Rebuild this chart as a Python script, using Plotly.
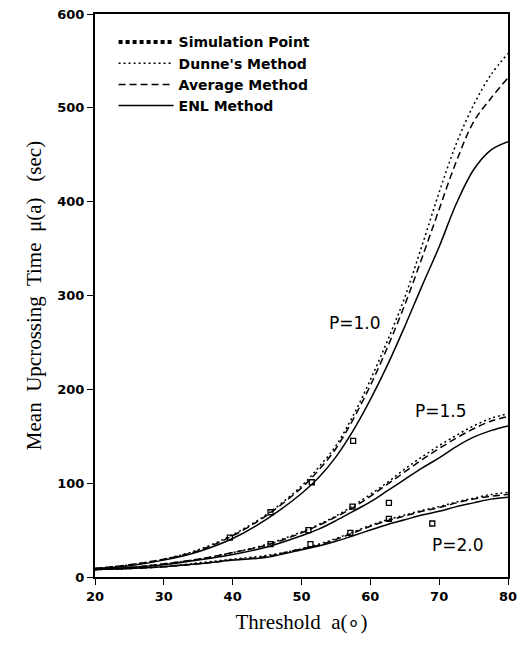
import plotly.graph_objects as go

# threshold grid (degrees)
threshold = [20, 25, 30, 35, 40, 45, 50, 52.5, 55, 57.5, 60, 62.5, 65, 67.5, 70, 72.5, 75, 77.5, 80]

# P = 1.0
dunne_p10 = [9, 13, 19, 29, 45, 67, 97, 117, 140, 172, 210, 252, 298, 353, 410, 462, 503, 535, 558]
average_p10 = [9, 13, 19, 28, 44, 66, 95, 114, 137, 168, 204, 245, 290, 340, 392, 443, 485, 510, 532]
enl_p10 = [9, 12, 18, 27, 41, 62, 89, 106, 128, 156, 189, 226, 267, 310, 352, 398, 434, 455, 464]

# P = 1.5
dunne_p15 = [8, 10, 14, 19, 26, 35, 48, 56, 65, 76, 88, 101, 115, 128, 140, 151, 161, 169, 174]
average_p15 = [8, 10, 14, 19, 26, 34, 47, 55, 64, 74, 86, 99, 112, 125, 137, 148, 158, 166, 171]
enl_p15 = [8, 10, 13, 18, 24, 32, 44, 51, 60, 70, 80, 92, 104, 116, 127, 139, 149, 156, 161]

# P = 2.0
dunne_p20 = [8, 9, 11, 15, 19, 23, 30, 35, 41, 48, 55, 61, 66, 71, 75, 80, 84, 88, 90]
average_p20 = [8, 9, 11, 14, 18, 22, 30, 34, 40, 47, 54, 60, 65, 70, 74, 79, 83, 86, 88]
enl_p20 = [8, 9, 11, 14, 18, 21, 29, 33, 38, 44, 50, 56, 61, 66, 70, 75, 79, 83, 85]

# simulation points
sim_a = [39.6, 45.5, 51.5, 57.5, 45.5, 51.0, 57.4, 62.7, 51.3, 57.1, 62.7, 69.0]
sim_mu = [42, 69, 101, 145, 35, 50, 75, 79, 35, 47, 62, 57]

curve_labels = ["P=1.0", "P=1.5", "P=2.0"]
label_a = [57.8, 70.2, 72.8]
label_mu = [271, 177, 34]

methods = [
    ("Dunne's Method", [dunne_p10, dunne_p15, dunne_p20], "2px,3px"),
    ("Average Method", [average_p10, average_p15, average_p20], "7px,4px"),
    ("ENL Method", [enl_p10, enl_p15, enl_p20], "solid"),
]

fig = go.Figure()

# legend entry for the simulation points (bold dotted sample)
fig.add_trace(go.Scatter(
    x=[None], y=[None], mode="lines", name="Simulation Point",
    line=dict(color="black", width=4, dash="4px,3px"),
))

for name, curves, dash in methods:
    for i, vals in enumerate(curves):
        fig.add_trace(go.Scatter(
            x=threshold, y=vals, mode="lines", name=name,
            legendgroup=name, showlegend=(i == 0),
            line=dict(color="black", width=1.5, dash=dash, shape="spline"),
        ))

fig.add_trace(go.Scatter(
    x=sim_a, y=sim_mu, mode="markers", showlegend=False,
    marker=dict(symbol="square-open", size=5, color="black", line=dict(width=1.3)),
))

for txt, xa, ym in zip(curve_labels, label_a, label_mu):
    fig.add_annotation(x=xa, y=ym, text=txt, showarrow=False,
                       font=dict(family="DejaVu Sans", size=17, color="black"))

fig.update_layout(
    width=517, height=655,
    margin=dict(l=95, r=9, t=14, b=78),
    plot_bgcolor="white", paper_bgcolor="white",
    legend=dict(x=0.045, y=0.978, xanchor="left", yanchor="top",
                bgcolor="rgba(0,0,0,0)", tracegroupgap=0, itemwidth=55,
                font=dict(family="DejaVu Sans", size=14, color="black", weight="bold")),
)

fig.update_xaxes(
    range=[20, 80], tickvals=[20, 30, 40, 50, 60, 70, 80],
    showline=True, linecolor="black", linewidth=2, mirror=True,
    ticks="outside", ticklen=6, tickcolor="black", showgrid=False, zeroline=False,
    ticklabeloverflow="allow", automargin=False,
    tickfont=dict(family="DejaVu Sans", size=13, color="black", weight="bold"),
    title=dict(text="Threshold  a(∘)", standoff=12,
               font=dict(family="Liberation Serif", size=21, color="black")),
)
fig.update_yaxes(
    range=[0, 600], dtick=100,
    showline=True, linecolor="black", linewidth=2, mirror=True,
    ticks="outside", ticklen=6, tickcolor="black", showgrid=False, zeroline=False,
    ticklabeloverflow="allow", automargin=False,
    tickfont=dict(family="DejaVu Sans", size=13, color="black", weight="bold"),
    title=dict(text="Mean  Upcrossing  Time  μ(a)   (sec)", standoff=10,
               font=dict(family="Liberation Serif", size=21, color="black")),
)

# drop the default page margin so the figure sits at the window origin
fig.write_html("out.html", config={"displayModeBar": False},
               post_script="document.body.style.margin = '0';")
